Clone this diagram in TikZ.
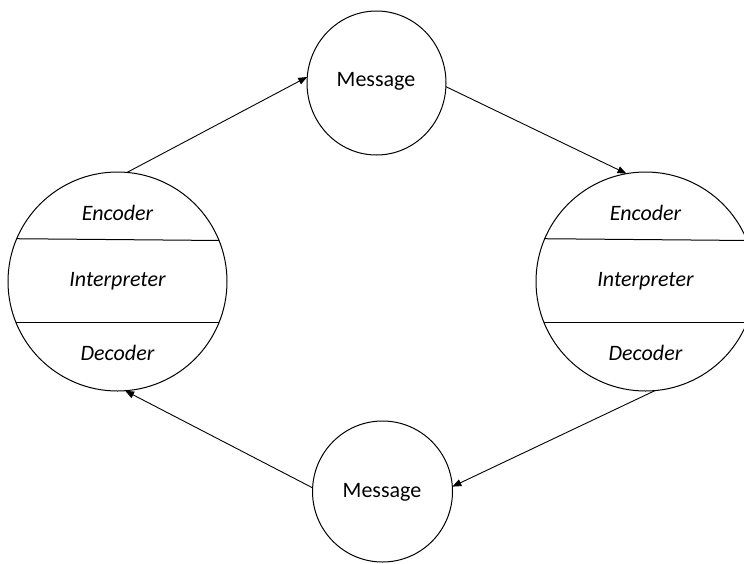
\documentclass[tikz,border=0pt]{standalone}
\usepackage{fontspec}
\setmainfont{Carlito}
\usetikzlibrary{arrows.meta,shapes.geometric}
\begin{document}
\begin{tikzpicture}[x=1pt,y=-1pt,
  every node/.style={font=\fontsize{22}{26}\selectfont},
  bigcirc/.style={circle,draw,line width=1pt,minimum size=219pt,inner sep=0pt,outer sep=0pt},
  msgcirc/.style={ellipse,draw,line width=1pt,inner sep=0pt,outer sep=0pt},
  lbl/.style={anchor=base,inner sep=0pt,font=\fontsize{22}{26}\selectfont\itshape},
  mlbl/.style={anchor=base,inner sep=0pt},
  chord/.style={line width=1pt},
  conn/.style={line width=0.9pt,-{Triangle[length=9pt,width=7pt]}}]
\useasboundingbox (0,0) rectangle (744,563);
\clip (0,0) rectangle (744,563);
% circles
\node[bigcirc] (L) at (117.5,281.5) {};
\node[bigcirc] (R) at (645.5,281.5) {};
\node[msgcirc,minimum width=139pt,minimum height=144pt] (M1) at (376.5,83) {};
\node[msgcirc,minimum width=140pt,minimum height=141pt] (M2) at (382.5,491.5) {};
% chords
\draw[chord] (L.157.7) -- (L.22.3);
\draw[chord] (L.202.3) -- (L.-22.3);
\draw[chord] (R.157.7) -- (R.22.3);
\draw[chord] (R.202.3) -- (R.-22.3);
% labels
\node[lbl] (le) at (117.5,220) {Encoder};
\node[lbl] (li) at (117.5,286) {Interpreter};
\node[lbl] (ld) at (117.5,360) {Decoder};
\node[lbl] (re) at (645.5,220) {Encoder};
\node[lbl] (ri) at (645.5,286) {Interpreter};
\node[lbl] (rd) at (645.5,360) {Decoder};
\node[mlbl] (m1t) at (376,86) {Message};
\node[mlbl] (m2t) at (382,497) {Message};
% connectors
\draw[conn] (L.85.5) -- (M1.175);
\draw[conn] (M1.-3) -- (R.100);
\draw[conn] (R.-85) -- (M2.4);
\draw[conn] (M2.177) -- (L.274.5);
\end{tikzpicture}
\end{document}
